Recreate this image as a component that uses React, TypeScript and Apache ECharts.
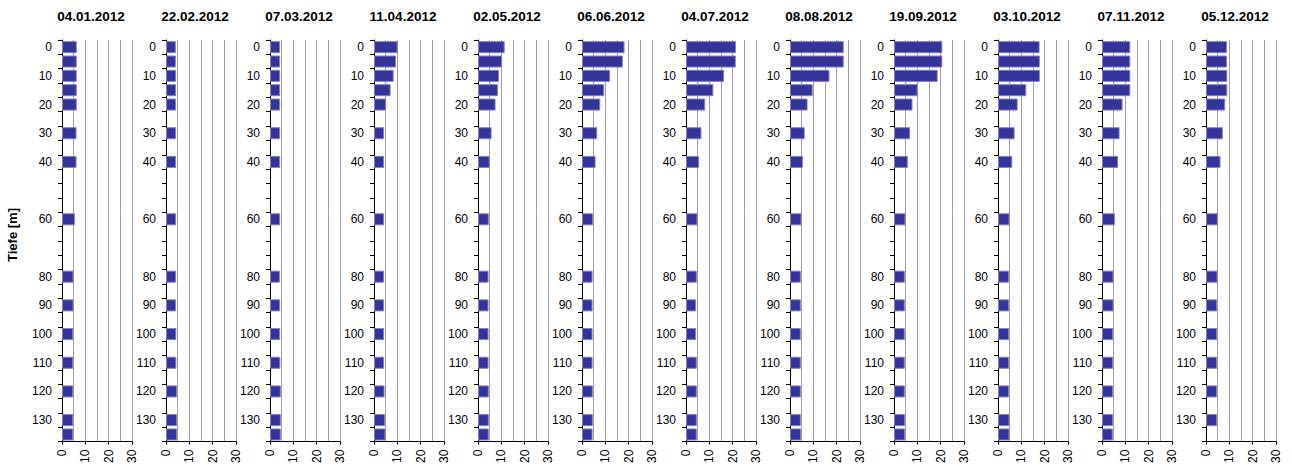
import React, { useEffect, useRef } from "react";
import * as echarts from "echarts";

const dates = [
  "04.01.2012", "22.02.2012", "07.03.2012", "11.04.2012", "02.05.2012", "06.06.2012",
  "04.07.2012", "08.08.2012", "19.09.2012", "03.10.2012", "07.11.2012", "05.12.2012",
];

// depth categories of the axis (every 5 m), and the depths that are labelled
const depthCategories = Array.from({ length: 28 }, (_, i) => String(i * 5));
const labelledDepths = ["0", "10", "20", "30", "40", "60", "80", "90", "100", "110", "120", "130"];

// measured depths
const depths = [0, 5, 10, 15, 20, 30, 40, 60, 80, 90, 100, 110, 120, 130, 135];

const v0401 = [5.9, 5.9, 5.9, 5.9, 5.9, 5.8, 5.8, 5.1, 4.5, 4.5, 4.4, 4.4, 4.4, 4.4, 4.4];
const v2202 = [3.8, 3.8, 3.9, 3.9, 3.9, 3.9, 3.9, 3.9, 3.9, 3.9, 4.0, 4.0, 4.3, 4.3, 4.3];
const v0703 = [3.9, 3.9, 3.9, 3.9, 3.9, 3.9, 3.9, 3.9, 3.8, 3.9, 3.9, 4.0, 4.2, 4.2, 4.2];
const v1104 = [9.7, 9.0, 8.0, 6.7, 4.8, 3.9, 3.9, 3.9, 3.9, 3.9, 3.9, 3.9, 4.1, 4.3, 4.5];
const v0205 = [11.0, 9.9, 8.6, 8.1, 7.1, 5.4, 4.6, 4.2, 4.1, 4.1, 4.1, 4.1, 4.2, 4.2, 4.2];
const v0606 = [17.8, 17.1, 11.6, 9.1, 7.4, 6.1, 5.4, 4.3, 4.1, 4.1, 4.1, 4.1, 4.2, 4.2, 4.1];
const v0407 = [21.0, 20.9, 15.9, 11.3, 7.8, 6.2, 5.2, 4.5, 4.2, 3.9, 3.9, 4.2, 4.2, 4.2, 4.2];
const v0808 = [22.6, 22.6, 16.5, 9.3, 7.1, 5.9, 5.1, 4.5, 4.2, 4.2, 4.2, 4.2, 4.2, 4.2, 4.3];
const v1909 = [20.3, 20.3, 18.3, 9.7, 7.5, 6.5, 5.5, 4.5, 4.2, 4.2, 4.2, 4.2, 4.2, 4.3, 4.3];
const v0310 = [17.4, 17.5, 17.5, 11.7, 8.0, 6.7, 5.7, 4.5, 4.3, 4.3, 4.3, 4.3, 4.3, 4.5, 4.5];
const v0711 = [11.7, 11.7, 11.7, 11.7, 8.4, 7.1, 6.5, 5.1, 4.5, 4.5, 4.3, 4.3, 4.3, 4.3, 4.2];
const v0512 = [8.6, 8.6, 8.7, 8.7, 7.8, 6.8, 5.8, 4.6, 4.5, 4.3, 4.3, 4.3, 4.3, 4.3, null];

const seriesValues = [v0401, v2202, v0703, v1104, v0205, v0606, v0407, v0808, v1909, v0310, v0711, v0512];

const xTicks = [0, 10, 20, 30];

const FONT = "'Liberation Sans', Arial, Helvetica, sans-serif";

export default function App() {
  const ref = useRef<HTMLDivElement>(null);

  useEffect(() => {
    if (!ref.current) return;
    const chart = echarts.init(ref.current, undefined, { renderer: "svg" });

    const step = 104;
    const grids: any[] = [];
    const xAxes: any[] = [];
    const yAxes: any[] = [];
    const series: any[] = [];
    const graphics: any[] = [];

    seriesValues.forEach((vals, k) => {
      grids.push({ left: 62 + step * k, top: 40, width: 70, height: 402, containLabel: false });
      xAxes.push({
        type: "value",
        gridIndex: k,
        min: xTicks[0],
        max: xTicks[xTicks.length - 1],
        interval: 10,
        axisLine: { show: true, onZero: false, lineStyle: { color: "#000", width: 1 } },
        axisTick: { show: true, length: 3, lineStyle: { color: "#000" } },
        axisLabel: {
          rotate: 90,
          margin: 8,
          fontSize: 12,
          color: "#000",
          fontFamily: FONT,
          showMinLabel: true,
          showMaxLabel: true,
        },
        splitLine: { show: true, lineStyle: { color: "#a0a0a0", width: 1 } },
        minorTick: { show: false, splitNumber: 2 },
        minorSplitLine: { show: true, lineStyle: { color: "#a0a0a0", width: 1 } },
      });
      yAxes.push({
        type: "category",
        gridIndex: k,
        inverse: true,
        data: depthCategories,
        boundaryGap: true,
        axisLine: { show: true, onZero: false, lineStyle: { color: "#000", width: 1 } },
        axisTick: { show: true, length: 4, interval: 0, alignWithLabel: false, lineStyle: { color: "#000" } },
        axisLabel: {
          interval: 0,
          margin: 10,
          fontSize: 12,
          color: "#000",
          fontFamily: FONT,
          formatter: (v: string) => (labelledDepths.includes(v) ? v : ""),
        },
        splitLine: { show: false },
      });
      const data = depths
        .map((d, i) => [vals[i], String(d)])
        .filter((p) => p[0] !== null && p[0] !== undefined);
      series.push({
        type: "custom",
        xAxisIndex: k,
        yAxisIndex: k,
        encode: { x: 0, y: 1 },
        data,
        renderItem: (params: any, api: any) => {
          const v = api.value(0);
          const c = api.value(1);
          const p0 = api.coord([0, c]);
          const p1 = api.coord([v, c]);
          const band = api.size([0, 1])[1];
          const h = band * 0.77;
          return {
            type: "rect",
            shape: { x: p0[0] + 0.5, y: p0[1] - h / 2, width: p1[0] - p0[0], height: h },
            style: { fill: "#333399", stroke: "#8080c4", lineWidth: 1 },
          };
        },
      });
      graphics.push({
        type: "text",
        x: 91 + step * k,
        y: 16,
        style: {
          text: dates[k],
          fontSize: 13.5,
          fontWeight: "bold",
          fontFamily: FONT,
          fill: "#000",
          textAlign: "center",
          textVerticalAlign: "middle",
        },
      });
    });

    graphics.push({
      type: "text",
      x: 12.5,
      y: 235,
      rotation: Math.PI / 2,
      style: {
        text: "Tiefe [m]",
        fontSize: 13,
        fontWeight: "bold",
        fontFamily: FONT,
        fill: "#000",
        textAlign: "center",
        textVerticalAlign: "middle",
      },
    });

    chart.setOption({
      animation: false,
      backgroundColor: "#fff",
      grid: grids,
      xAxis: xAxes,
      yAxis: yAxes,
      series,
      graphic: graphics,
    });

    return () => chart.dispose();
  }, []);

  return (
    <div
      ref={ref}
      style={{ position: "fixed", left: 0, top: 0, width: 1292, height: 466 }}
    />
  );
}
